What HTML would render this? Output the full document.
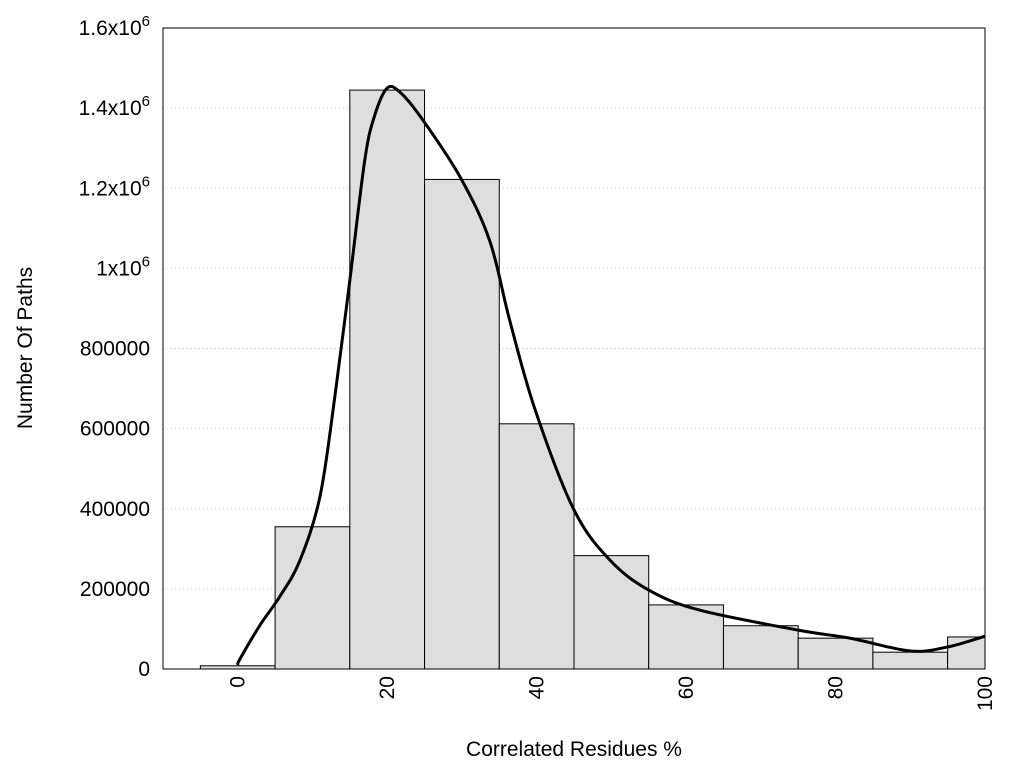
<!DOCTYPE html>
<html><head><meta charset="utf-8"><style>
body{margin:0;background:#fff;}
svg{display:block;font-family:"Liberation Sans",sans-serif;}
</style></head><body>
<svg id="chart" width="1024" height="768">
<g id="grid"></g><g id="bars"></g><g id="curve"></g><g id="axes"></g>
</svg>
<script>
const binCenters=[0,10,20,30,40,50,60,70,80,90,100];
const binCounts=[8000,355000,1445000,1222000,612000,283000,160000,108000,77000,42000,80000];
const curveX=[0,0.3,3,5.6,8.3,11,13,15,17,18.3,20,21.7,24.4,29.7,33.7,36.4,39.8,45,49.8,55,61.8,75,81.9,90,95,100];
const curveY=[10000,25000,110000,180000,270000,430000,680000,970000,1270000,1380000,1450000,1440000,1380000,1230000,1070000,870000,647000,397000,272000,197000,147000,97000,77000,45000,55000,82000];
const yTicks=[0,200000,400000,600000,800000,1000000,1200000,1400000,1600000];
const yTickLabels=["0","200000","400000","600000","800000","1x10|6","1.2x10|6","1.4x10|6","1.6x10|6"];
const xTicks=[0,20,40,60,80,100];
const NS="http://www.w3.org/2000/svg";
const L=163,R=985,T=28,B=669,xMin=-10,xMax=100,yMax=1600000;
const sx=v=>L+(v-xMin)/(xMax-xMin)*(R-L);
const sy=v=>B-v/yMax*(B-T);
function mk(tag,attrs,parent){const e=document.createElementNS(NS,tag);for(const k in attrs)e.setAttribute(k,attrs[k]);parent.appendChild(e);return e;}
const grid=document.getElementById('grid'),bars=document.getElementById('bars'),curve=document.getElementById('curve'),axes=document.getElementById('axes');
yTicks.forEach((v,i)=>{
  if(i>0&&i<yTicks.length-1){const g=mk('line',{x1:L,x2:R,y1:sy(v),y2:sy(v),stroke:'#c8c8c8','stroke-dasharray':'1,3'},grid);
  
  }
  const t=mk('text',{x:150,y:sy(v)+7,'text-anchor':'end','font-size':21},axes);
  
  
  const p=yTickLabels[i].split('|');
  t.textContent=p[0];
  if(p[1]){const s=mk('tspan',{dy:-9,'font-size':15},t);s.textContent=p[1];}
});
binCenters.forEach((c,i)=>{
  const x0=sx(c-5),x1=Math.min(sx(c+5),R);
  const r=mk('rect',{x:x0,y:sy(binCounts[i]),width:x1-x0,height:B-sy(binCounts[i]),fill:'#dedede',stroke:'#000','stroke-width':1},bars);
  
  
});
let d='M'+sx(curveX[0])+','+sy(curveY[0]);
for(let i=0;i<curveX.length-1;i++){
  const p0=i>0?i-1:i,p3=i+2<curveX.length?i+2:i+1;
  const x0=sx(curveX[p0]),y0=sy(curveY[p0]),x1=sx(curveX[i]),y1=sy(curveY[i]),x2=sx(curveX[i+1]),y2=sy(curveY[i+1]),x3=sx(curveX[p3]),y3=sy(curveY[p3]);
  d+=' C'+(x1+(x2-x0)/6)+','+(y1+(y2-y0)/6)+' '+(x2-(x3-x1)/6)+','+(y2-(y3-y1)/6)+' '+x2+','+y2;
}
const cp=mk('path',{d:d,fill:'none',stroke:'#000','stroke-width':3},curve);


const fr=mk('rect',{x:L,y:T,width:R-L,height:B-T,fill:'none',stroke:'#000','stroke-width':1},axes);


xTicks.forEach(v=>{
  const x=sx(v);
  const t=mk('text',{x:x+7,y:676,'text-anchor':'end','font-size':21,transform:'rotate(-90 '+(x+7)+' 676)'},axes);
  
  
  t.textContent=v;
});
const xt=mk('text',{x:574,y:756,'text-anchor':'middle','font-size':21},axes);


xt.textContent='Correlated Residues %';
const yt=mk('text',{x:32,y:348,'text-anchor':'middle','font-size':21,transform:'rotate(-90 32 348)'},axes);


yt.textContent='Number Of Paths';
</script>
</body></html>
